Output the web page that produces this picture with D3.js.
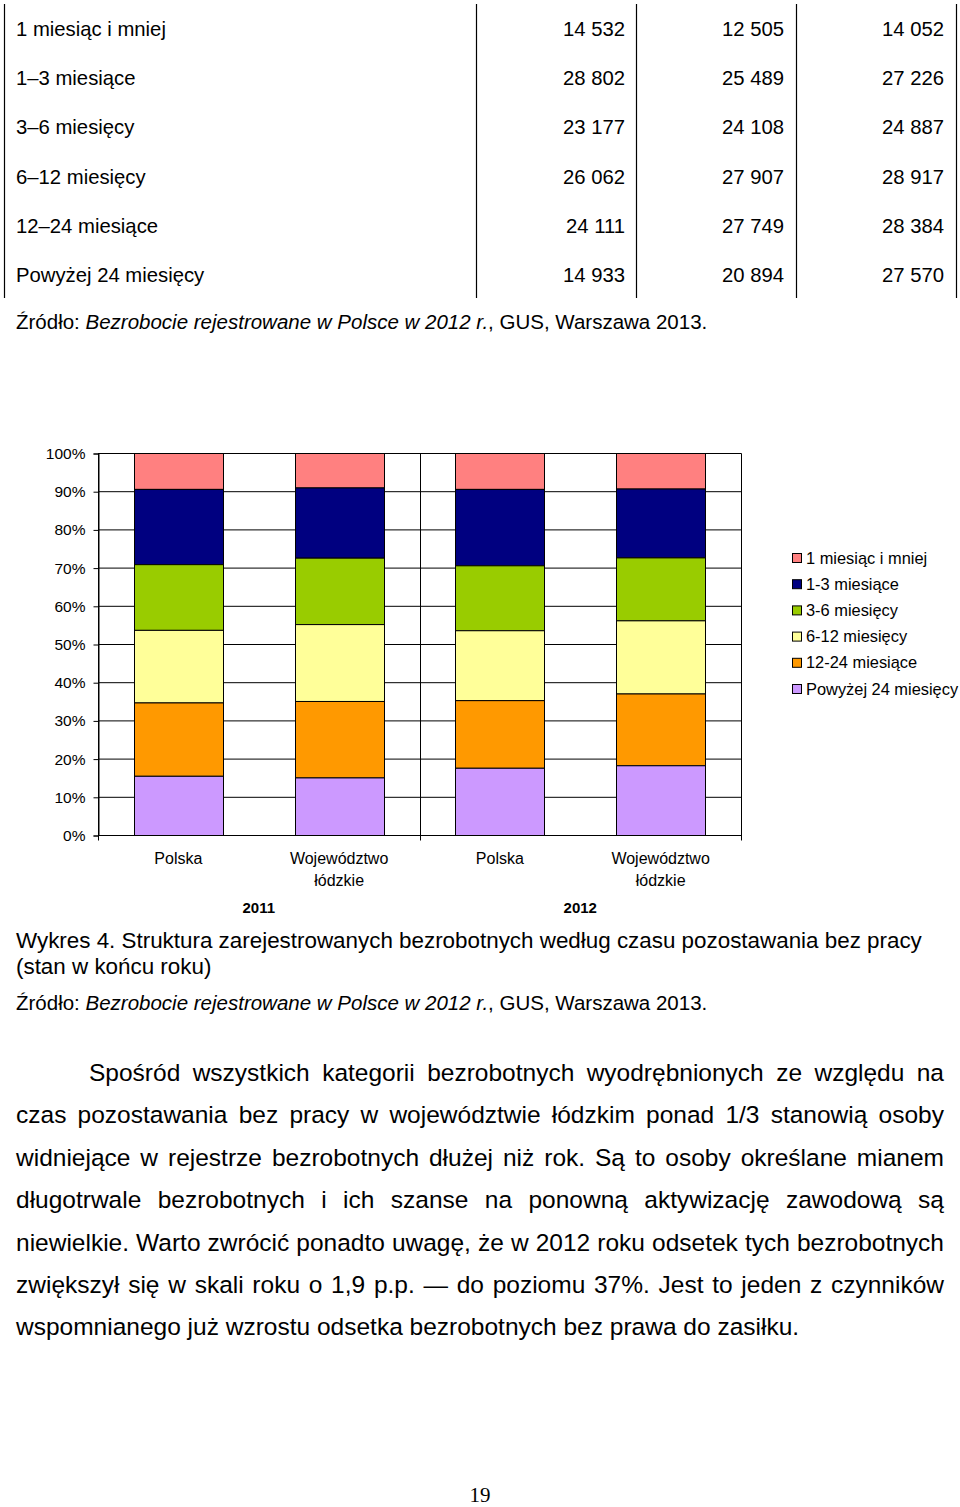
<!DOCTYPE html>
<html lang="pl">
<head>
<meta charset="utf-8">
<script src="https://cdn.jsdelivr.net/npm/d3@7"></script>
<style>
  html, body { margin: 0; padding: 0; background: #fff; }
  svg { display: block; font-family: "Liberation Sans", Arial, sans-serif; }
</style>
</head>
<body>
<svg id="page" width="960" height="1507"></svg>
<script>
// ---------- DATA ----------
const tableRows = ["1 miesiąc i mniej", "1–3 miesiące", "3–6 miesięcy", "6–12 miesięcy", "12–24 miesiące", "Powyżej 24 miesięcy"];
const table2010 = [14532, 28802, 23177, 26062, 24111, 14933];
const table2011 = [12505, 25489, 24108, 27907, 27749, 20894];
const table2012 = [14052, 27226, 24887, 28917, 28384, 27570];

const seriesNames = ["1 miesiąc i mniej", "1-3 miesiące", "3-6 miesięcy", "6-12 miesięcy", "12-24 miesiące", "Powyżej 24 miesięcy"];
const seriesColors = ["#FF8080", "#000080", "#99CC00", "#FFFF99", "#FF9900", "#CC99FF"];
const categories = ["Polska", "Województwo|łódzkie", "Polska", "Województwo|łódzkie"];
const categoryYears = ["2011", "2011", "2012", "2012"];
const years = ["2011", "2012"];
// shares (%) for Polska; counts from the table for łódzkie
const polska2011 = [9.4, 19.7, 17.2, 19.0, 19.2, 15.5];
const lodzkie2011 = [12505, 25489, 24108, 27907, 27749, 20894];
const polska2012 = [9.4, 20.0, 17.0, 18.3, 17.7, 17.6];
const lodzkie2012 = [14052, 27226, 24887, 28917, 28384, 27570];
const yTicks = [0, 0.1, 0.2, 0.3, 0.4, 0.5, 0.6, 0.7, 0.8, 0.9, 1.0];

const sourceParts = [["Źródło: ", "normal"], ["Bezrobocie rejestrowane w Polsce w 2012 r.", "italic"], [", GUS, Warszawa 2013.", "normal"]];
const captionLines = ["Wykres 4. Struktura zarejestrowanych bezrobotnych według czasu pozostawania bez pracy", "(stan w końcu roku)"];
const paragraphLines = [
  "Spośród wszystkich kategorii bezrobotnych wyodrębnionych ze względu na",
  "czas pozostawania bez pracy w województwie łódzkim ponad 1/3 stanowią osoby",
  "widniejące w rejestrze bezrobotnych dłużej niż rok. Są to osoby określane mianem",
  "długotrwale bezrobotnych i ich szanse na ponowną aktywizację zawodową są",
  "niewielkie. Warto zwrócić ponadto uwagę, że w 2012 roku odsetek tych bezrobotnych",
  "zwiększył się w skali roku o 1,9 p.p. — do poziomu 37%. Jest to jeden z czynników",
  "wspomnianego już wzrostu odsetka bezrobotnych bez prawa do zasiłku."
];
const pageNumber = "19";

// ---------- PAGE ----------
const svg = d3.select("#page");
const fmtNum = n => d3.format(",")(n).replace(/,/g, " ");

// Table
const tbl = svg.append("g");
[4.5, 476.5, 636.5, 796.5, 956.5].forEach(x => {
  tbl.append("line").attr("x1", x).attr("x2", x).attr("y1", 4).attr("y2", 298)
    .attr("stroke", "#000").attr("stroke-width", 1.2);
});
const rowY = i => 36 + i * 49.2;
tableRows.forEach((r, i) => {
  tbl.append("text").attr("x", 16).attr("y", rowY(i)).attr("font-size", 20.3).attr("fill", "#000").text(r);
  [[table2010, 625], [table2011, 784], [table2012, 944]].forEach(([arr, x]) => {
    tbl.append("text").attr("x", x).attr("y", rowY(i)).attr("font-size", 20.3)
      .attr("text-anchor", "end").attr("fill", "#000").text(fmtNum(arr[i]));
  });
});
function sourceLine(y) {
  const t = svg.append("text").attr("x", 16).attr("y", y).attr("font-size", 20.5).attr("fill", "#000");
  sourceParts.forEach(([s, st]) => t.append("tspan").attr("font-style", st).text(s));
}
sourceLine(329);

// ---------- CHART ----------
const barData = [polska2011, lodzkie2011, polska2012, lodzkie2012].map((vals, i) => {
  const o = { idx: i };
  seriesNames.forEach((s, k) => o[s] = vals[k]);
  return o;
});
const stack = d3.stack().keys(seriesNames).order(d3.stackOrderReverse).offset(d3.stackOffsetExpand);
const stacked = stack(barData);

const x0 = 98, x1 = 741;
const x = d3.scaleBand().domain(d3.range(categories.length)).range([x0, x1]).paddingInner(0.445).paddingOuter(0.2225);
const xYear = d3.scaleBand().domain(years).range([x0, x1]);
const y = d3.scaleLinear().domain([0, 1]).range([835.5, 453.5]);

const chart = svg.append("g");
// grid
chart.append("g").selectAll("line").data(yTicks).join("line")
  .attr("x1", x0).attr("x2", x1 + 0.5).attr("y1", d => y(d)).attr("y2", d => y(d))
  .attr("stroke", "#000").attr("stroke-width", 1);
const bounds = [x0, ...years.map(yr => xYear(yr) + xYear.bandwidth())];
chart.append("g").selectAll("line").data(bounds).join("line")
  .attr("x1", d => Math.round(d) + 0.5).attr("x2", d => Math.round(d) + 0.5)
  .attr("y1", y(1)).attr("y2", y(0) + 5)
  .attr("stroke", "#000").attr("stroke-width", 1);

// bars
chart.append("g").selectAll("g").data(stacked).join("g")
  .attr("fill", d => seriesColors[seriesNames.indexOf(d.key)])
  .selectAll("rect").data(d => d).join("rect")
  .attr("x", d => Math.round(x(d.data.idx)) + 0.5)
  .attr("width", Math.round(x.bandwidth()))
  .attr("y", d => y(d[1]))
  .attr("height", d => y(d[0]) - y(d[1]))
  .attr("stroke", "#000").attr("stroke-width", 1);

// y axis
const yAxis = d3.axisLeft(y).tickValues(yTicks).tickFormat(d3.format(".0%")).tickSize(5).tickPadding(8);
const ya = chart.append("g").attr("transform", `translate(${x0 + 0.5},0)`).call(yAxis);
ya.select(".domain").attr("stroke", "#000");
ya.selectAll("line").attr("stroke", "#000");
ya.selectAll("text").attr("font-size", 15.5).attr("fill", "#000").attr("font-family", '"Liberation Sans", Arial, sans-serif');

// x labels
categories.forEach((c, i) => {
  const t = chart.append("text").attr("text-anchor", "middle").attr("font-size", 16).attr("fill", "#000")
    .attr("x", x(i) + x.bandwidth() / 2).attr("y", 864);
  c.split("|").forEach((ln, k) => t.append("tspan").attr("x", x(i) + x.bandwidth() / 2).attr("dy", k ? 22 : 0).text(ln));
});
years.forEach(yr => {
  chart.append("text").attr("text-anchor", "middle").attr("font-size", 15).attr("font-weight", "bold")
    .attr("fill", "#000").attr("x", xYear(yr) + xYear.bandwidth() / 2).attr("y", 913).text(yr);
});

// legend
const leg = chart.append("g").attr("transform", "translate(792,558)");
seriesNames.forEach((s, i) => {
  const g = leg.append("g").attr("transform", `translate(0,${i * 26.2})`);
  g.append("rect").attr("x", 0.5).attr("y", -4.5).attr("width", 9).attr("height", 9)
    .attr("fill", seriesColors[i]).attr("stroke", "#000").attr("stroke-width", 1);
  g.append("text").attr("x", 14).attr("y", 5.5).attr("font-size", 16.4).attr("fill", "#000").text(s);
});

// caption + source
captionLines.forEach((l, i) => {
  svg.append("text").attr("x", 16).attr("y", 948 + i * 26).attr("font-size", 22.4).attr("fill", "#000").text(l);
});
sourceLine(1010);

// paragraph (justified)
const pLeft = 16, pRight = 944, fs = 24.5;
paragraphLines.forEach((line, i) => {
  const by = 1081 + i * 42.4;
  const startX = i === 0 ? 89 : pLeft;
  const words = line.split(" ");
  const g = svg.append("g");
  const nodes = words.map(w => g.append("text").attr("y", by).attr("font-size", fs).attr("fill", "#000").text(w));
  const widths = nodes.map(n => n.node().getComputedTextLength());
  const last = i === paragraphLines.length - 1;
  const spaceW = (() => { const t = g.append("text").attr("font-size", fs).text("a a"); const t2 = g.append("text").attr("font-size", fs).text("aa");
    const w = t.node().getComputedTextLength() - t2.node().getComputedTextLength(); t.remove(); t2.remove(); return w; })();
  const gap = last ? spaceW : Math.max(3, (pRight - startX - d3.sum(widths)) / (words.length - 1));
  let cx = startX;
  nodes.forEach((n, k) => { n.attr("x", cx); cx += widths[k] + gap; });
});

// page number
svg.append("text").attr("x", 480).attr("y", 1502).attr("text-anchor", "middle")
  .attr("font-family", '"Liberation Serif", "Times New Roman", serif').attr("font-size", 21).attr("fill", "#000").text(pageNumber);
</script>
</body>
</html>
